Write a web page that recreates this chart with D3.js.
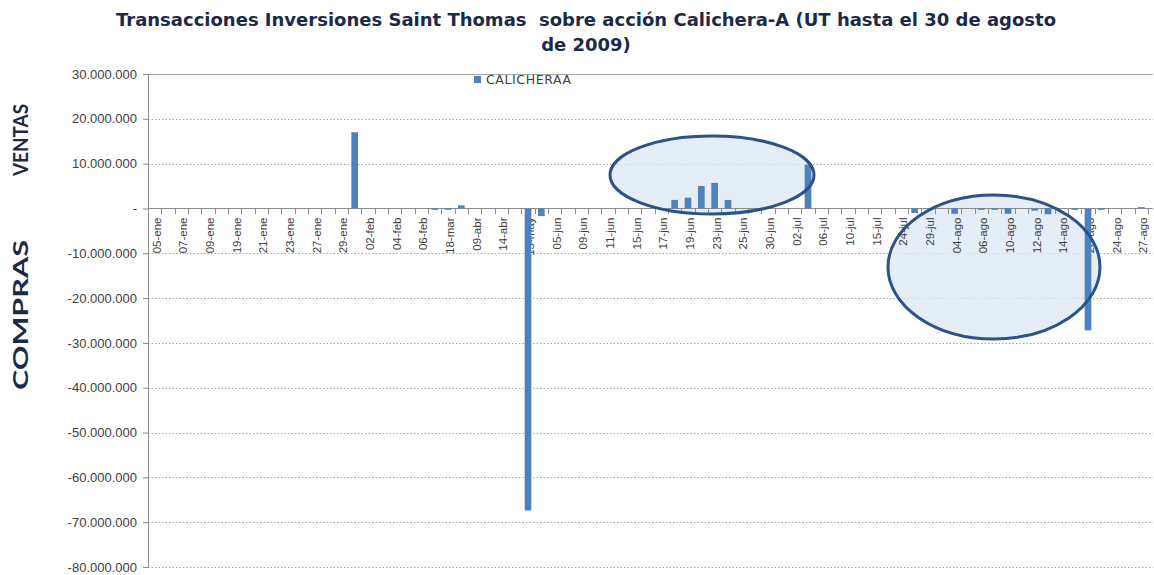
<!DOCTYPE html>
<html lang="es">
<head>
<meta charset="UTF-8">
<title>Transacciones Inversiones Saint Thomas</title>
<style>
    body { margin: 0; background: #fff; }
    svg { display: block; font-family: "DejaVu Sans", Verdana, sans-serif; }
    .title { font-weight: bold; font-size: 18px; fill: #1c2a48; white-space: pre; }
    .ytitle { font-family: Lato, sans-serif; font-weight: bold; font-size: 20px; fill: #1c2a48; }
    .ylab { font-size: 13px; fill: #404040; }
    .xlab { font-size: 11.5px; fill: #404040; }
    .grid { stroke: #a6a6a6; stroke-dasharray: 1.5 2; }
    .axisline { stroke: #8c8c8c; fill: none; shape-rendering: crispEdges; }
</style>
</head>
<body>
<div id="chart"></div>
<script src="https://cdn.jsdelivr.net/npm/d3@7"></script>
<script>
    // categorias (fechas) del eje x
    const categories = [
        "05-ene", "06-ene", "07-ene", "08-ene", "09-ene", "12-ene", "19-ene", "20-ene", "21-ene", "22-ene",
        "23-ene", "26-ene", "27-ene", "28-ene", "29-ene", "30-ene", "02-feb", "03-feb", "04-feb", "05-feb",
        "06-feb", "09-feb", "18-mar", "27-mar", "09-abr", "13-abr", "14-abr", "15-abr", "15-may", "04-jun",
        "05-jun", "08-jun", "09-jun", "10-jun", "11-jun", "12-jun", "15-jun", "16-jun", "17-jun", "18-jun",
        "19-jun", "22-jun", "23-jun", "24-jun", "25-jun", "26-jun", "30-jun", "01-jul", "02-jul", "03-jul",
        "06-jul", "07-jul", "10-jul", "14-jul", "15-jul", "16-jul", "24-jul", "28-jul", "29-jul", "03-ago",
        "04-ago", "05-ago", "06-ago", "07-ago", "10-ago", "11-ago", "12-ago", "13-ago", "14-ago", "19-ago",
        "20-ago", "21-ago", "24-ago", "25-ago", "27-ago"
    ];
    // serie CALICHERAA (acciones; positivo = ventas, negativo = compras)
    const calicheraa = [
        0, 0, 0, 0, 0, 0, 0, 0, 0, 0,
        0, 0, 0, 0, 0, 17000000, 0, 0, 0, 0,
        0, -300000, -300000, 700000, 0, 0, 0, 0, -67400000, -1700000,
        0, 0, 0, 0, 0, 0, 0, 0, 0, 1900000,
        2400000, 5000000, 5700000, 1900000, 0, 0, 0, 0, 0, 9800000,
        0, 0, 0, 0, 0, 0, 0, -1000000, 0, 0,
        -1200000, 0, -300000, -300000, -1200000, 0, -500000, -1300000, 0, -300000,
        -27200000, -300000, 0, 0, 300000
    ];
    const yTicks = [30e6, 20e6, 10e6, 0, -10e6, -20e6, -30e6, -40e6, -50e6, -60e6, -70e6, -80e6];
    const seriesName = "CALICHERAA";
    const titleLines = ["Transacciones Inversiones Saint Thomas  sobre acción Calichera-A (UT hasta el 30 de agosto", "de 2009)"];

    const W = 1154, H = 575;
    const mLeft = 148, mRight = 1148, mTop = 74, mBottom = 567;

    const svg = d3.select("#chart").append("svg").attr("width", W).attr("height", H);

    const x = d3.scaleBand().domain(categories).range([mLeft, mRight]).padding(0);
    const xBar = d3.scaleBand().domain(categories).range([mLeft, mRight]).paddingInner(0.5).paddingOuter(0.25);
    const y = d3.scaleLinear().domain([-80e6, 30e6]).range([mBottom, mTop]);

    const fmt = v => v === 0 ? "-" : d3.format(",")(v).replace(/,/g, ".").replace("−", "-");

    // titulo
    svg.selectAll("text.title").data(titleLines).enter().append("text")
        .attr("class", "title")
        .attr("x", 586).attr("y", (d, i) => 26 + i * 25)
        .attr("text-anchor", "middle")
        .text(d => d);

    // lineas de division
    svg.append("g").selectAll("line").data(yTicks.filter(v => v !== 0 && v !== 30e6)).enter().append("line")
        .attr("class", "grid")
        .attr("x1", mLeft).attr("x2", W - 1)
        .attr("y1", d => Math.round(y(d)) + 0.5).attr("y2", d => Math.round(y(d)) + 0.5);
    svg.append("line").attr("x1", mLeft).attr("x2", W - 1)
        .attr("y1", Math.round(y(30e6)) + 0.5).attr("y2", Math.round(y(30e6)) + 0.5)
        .attr("stroke", "#a6a6a6");

    // eje y
    const yAxis = d3.axisLeft(y).tickValues(yTicks).tickSize(5).tickPadding(6).tickFormat(fmt);
    const gy = svg.append("g").attr("transform", `translate(${mLeft},0)`).call(yAxis);
    gy.select(".domain").attr("stroke", "#8c8c8c");
    gy.selectAll(".tick line").attr("stroke", "#8c8c8c");
    gy.selectAll(".tick text").attr("class", "ylab").attr("font-family", null).attr("font-size", null).attr("fill", null);

    // elipses de resaltado (anotaciones): relleno debajo de las barras
    const ellipses = [
        { cx: 712, cy: 175, rx: 102, ry: 39 },
        { cx: 994, cy: 267, rx: 106, ry: 72 }
    ];
    svg.append("g").selectAll("ellipse").data(ellipses).enter().append("ellipse")
        .attr("cx", d => d.cx).attr("cy", d => d.cy).attr("rx", d => d.rx).attr("ry", d => d.ry)
        .attr("fill", "#dfe8f4").attr("fill-opacity", 0.8);

    // etiquetas del eje x (cada dos categorias)
    const y0 = Math.round(y(0)) + 0.5;
    const xAxis = d3.axisBottom(x).tickValues(categories.filter((d, i) => i % 2 === 0)).tickSize(0).tickPadding(0);
    const gx = svg.append("g").attr("transform", `translate(0,${y0})`).call(xAxis);
    gx.select(".domain").remove();
    gx.selectAll(".tick text")
        .attr("class", "xlab").attr("font-family", null).attr("font-size", null).attr("fill", null)
        .attr("transform", "rotate(-90)")
        .attr("text-anchor", "end")
        .attr("dy", "0.35em")
        .attr("x", -9).attr("y", 2);

    // linea del eje x y marcas en los limites de categoria
    svg.append("line").attr("class", "axisline")
        .attr("x1", mLeft).attr("x2", W - 1).attr("y1", y0).attr("y2", y0);
    svg.append("g").selectAll("line").data(categories.map(c => x(c)).concat([mRight])).enter().append("line")
        .attr("class", "axisline")
        .attr("x1", d => Math.round(d) + 0.5).attr("x2", d => Math.round(d) + 0.5)
        .attr("y1", y0).attr("y2", y0 + 5);

    // barras
    svg.append("g").selectAll("rect").data(calicheraa.map((v, i) => ({ c: categories[i], v })).filter(d => d.v !== 0))
        .enter().append("rect")
        .attr("fill", "#4f81bd")
        .attr("x", d => xBar(d.c))
        .attr("width", xBar.bandwidth())
        .attr("y", d => y(Math.max(0, d.v)))
        .attr("height", d => Math.abs(y(d.v) - y(0)));

    // contorno de las elipses
    svg.append("g").selectAll("ellipse").data(ellipses).enter().append("ellipse")
        .attr("cx", d => d.cx).attr("cy", d => d.cy).attr("rx", d => d.rx).attr("ry", d => d.ry)
        .attr("fill", "none")
        .attr("stroke", "#2c5287").attr("stroke-width", 3);

    // leyenda
    const lg = svg.append("g").attr("transform", "translate(474,76)");
    lg.append("rect").attr("width", 7).attr("height", 7).attr("fill", "#4f81bd");
    lg.append("text").attr("x", 12).attr("y", 8).attr("font-size", 12.5).attr("fill", "#404040")
        .attr("letter-spacing", 0.6).text(seriesName);

    // titulos del eje y
    svg.append("text").attr("class", "ytitle").attr("text-anchor", "middle")
        .attr("transform", "translate(28,140) rotate(-90)")
        .attr("textLength", 72).attr("lengthAdjust", "spacingAndGlyphs").text("VENTAS");
    svg.append("text").attr("class", "ytitle").attr("text-anchor", "middle")
        .attr("transform", "translate(28,315) rotate(-90)")
        .attr("textLength", 150).attr("lengthAdjust", "spacingAndGlyphs").text("COMPRAS");
</script>
</body>
</html>
